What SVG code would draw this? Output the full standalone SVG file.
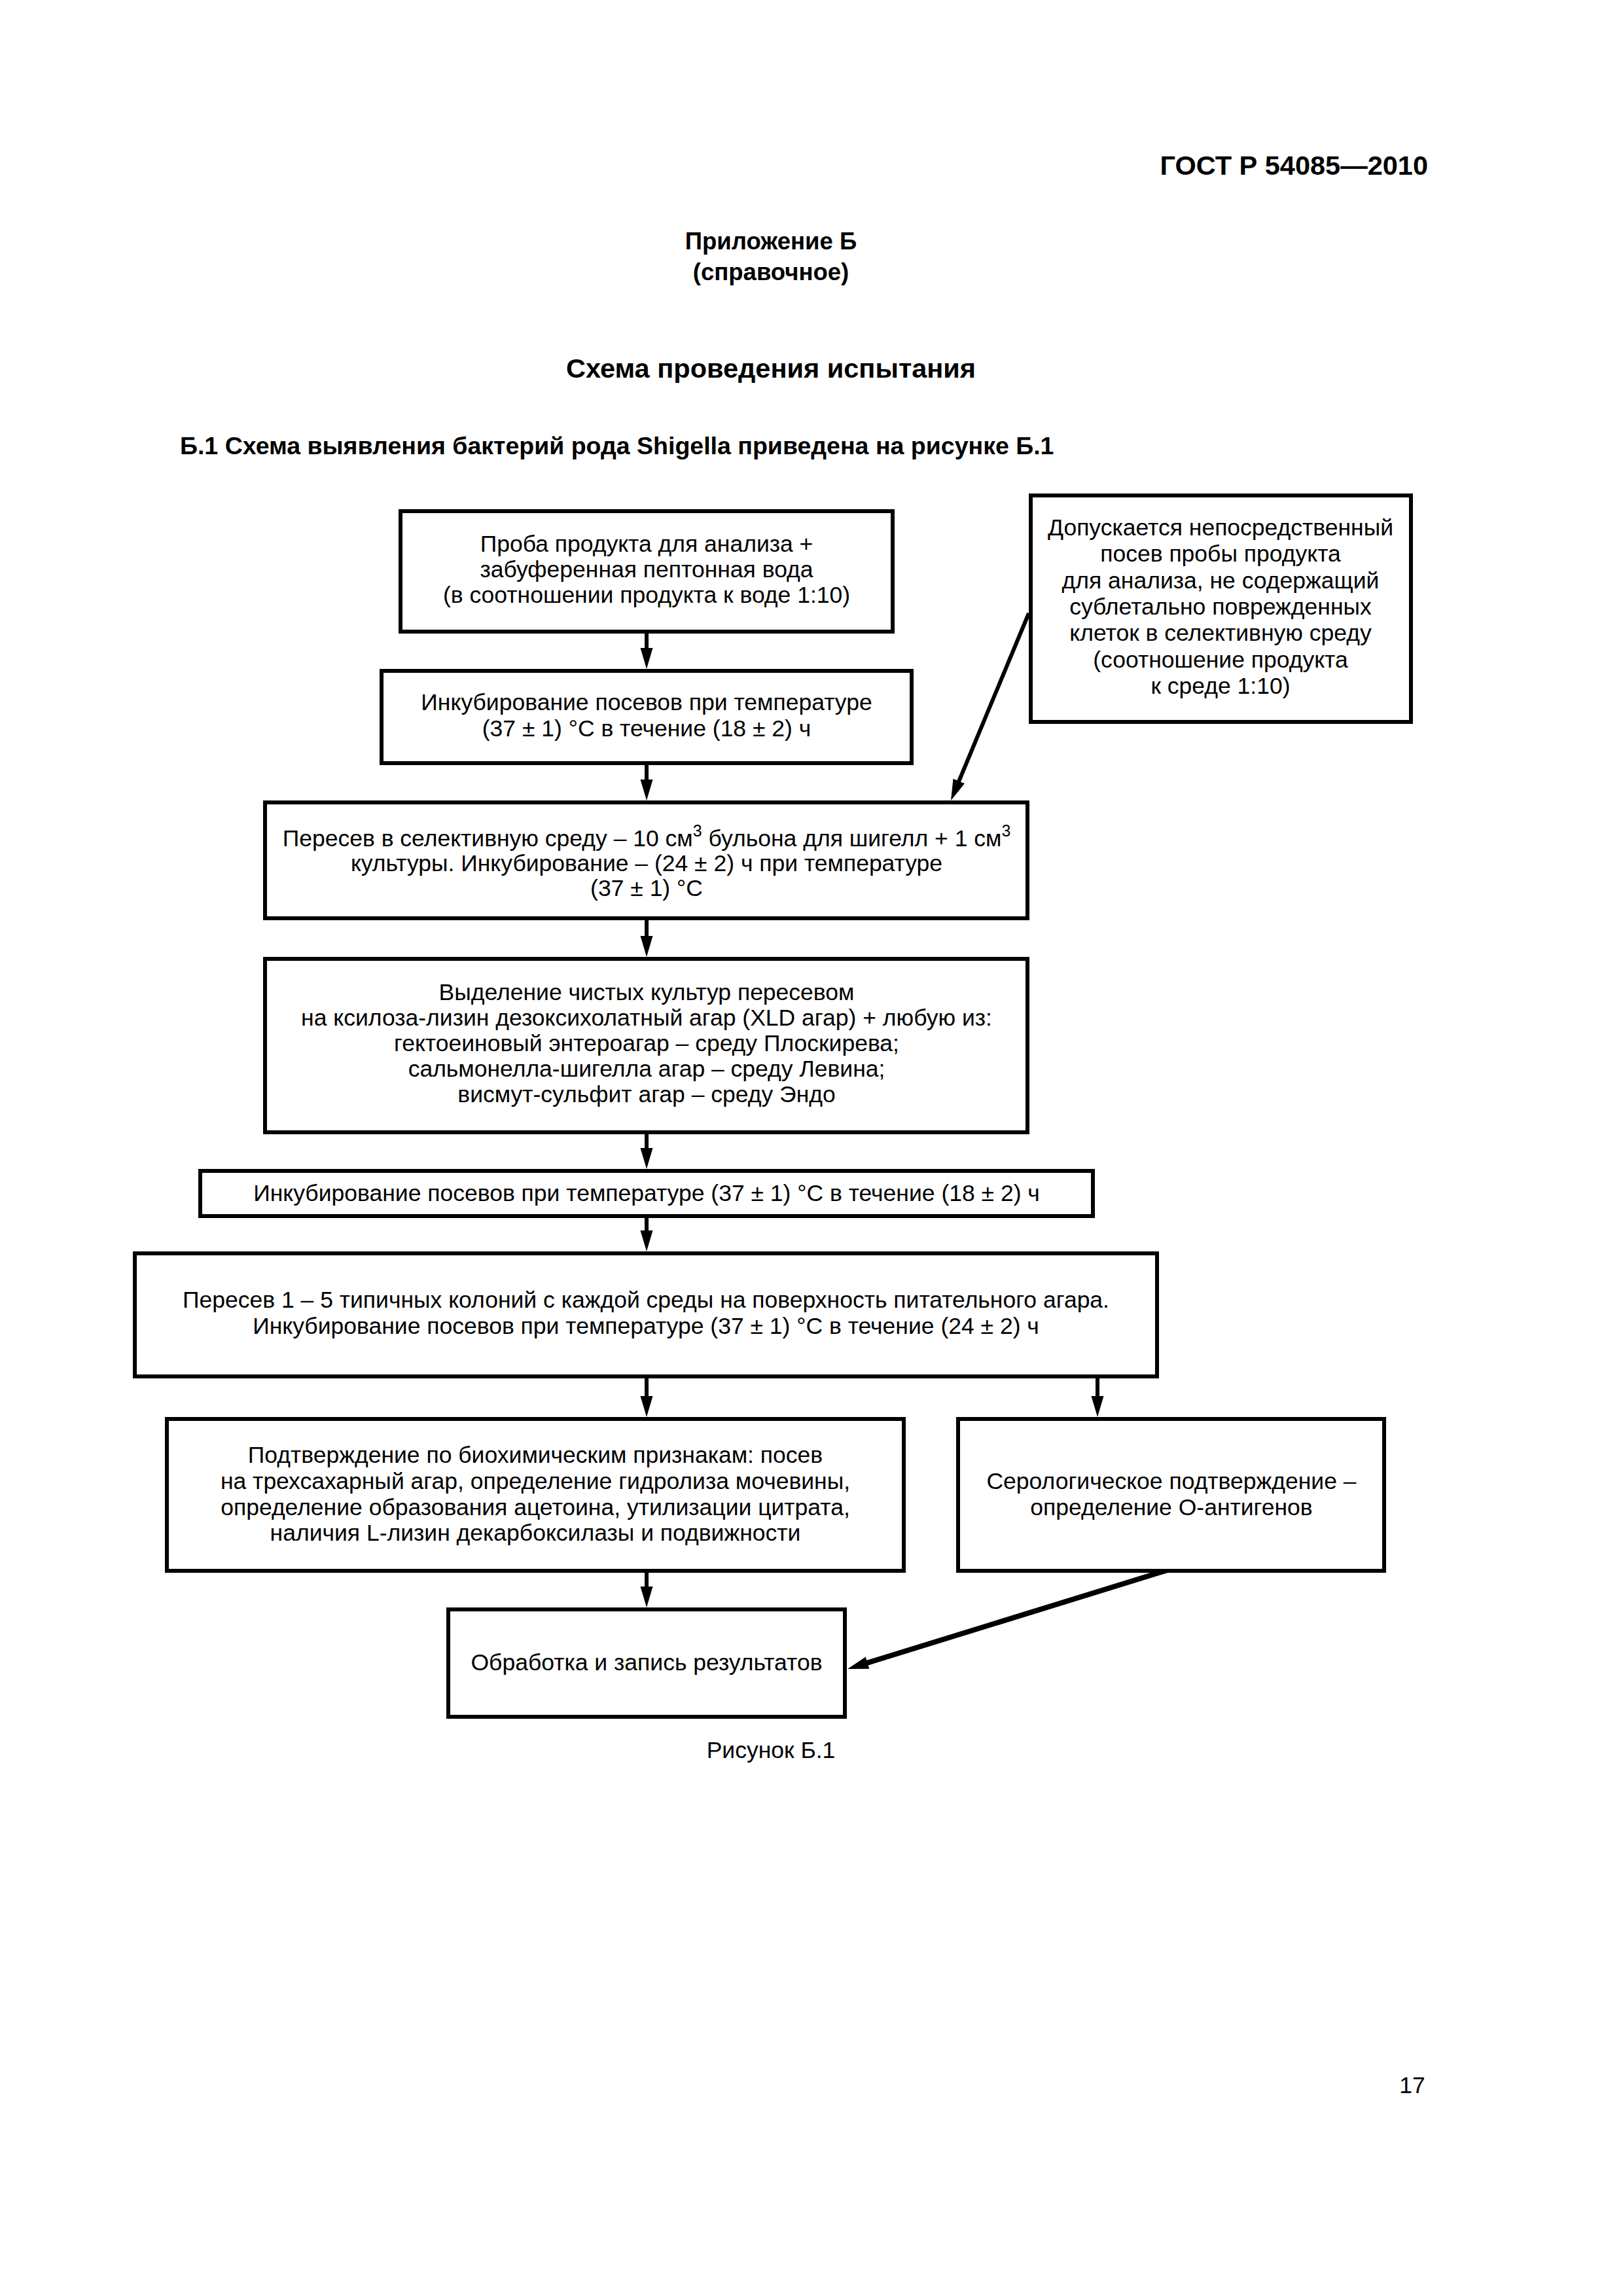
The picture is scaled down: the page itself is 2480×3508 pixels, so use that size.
<svg xmlns="http://www.w3.org/2000/svg" width="2480" height="3508" viewBox="0 0 2480 3508">
<style>
  .bg { fill: #ffffff; }
  .box { fill: #ffffff; stroke: #000000; stroke-width: 6; }
  .t { font-family: "Liberation Sans", Arial, sans-serif; font-size: 35.5px; fill: #000000; text-anchor: middle; }
  .hb { font-family: "Liberation Sans", Arial, sans-serif; font-weight: bold; fill: #000000; }
  .conn { stroke: #000000; stroke-width: 6; fill: none; marker-end: url(#arr); }
  .thick { stroke-width: 8; }
  .sup { font-size: 25px; }
</style>
<defs>
  <marker id="arr" markerUnits="userSpaceOnUse" markerWidth="34" markerHeight="22" refX="12" refY="10" orient="auto" viewBox="0 0 34 20">
    <path d="M0,0.5 L32,10 L0,19.5 z" fill="#000000"/>
  </marker>
</defs>
<rect class="bg" x="0" y="0" width="2480" height="3508"/>

<g id="page-header">
  <text class="hb" x="2182" y="267" font-size="41.5" text-anchor="end">ГОСТ Р 54085—2010</text>
  <text class="hb" x="1178" y="381" font-size="36.5" text-anchor="middle">Приложение Б</text>
  <text class="hb" x="1178" y="428" font-size="36.5" text-anchor="middle">(справочное)</text>
  <text class="hb" x="1178" y="577" font-size="41.5" text-anchor="middle">Схема проведения испытания</text>
  <text class="hb" x="275" y="694" font-size="37.5">Б.1 Схема выявления бактерий рода Shigella приведена на рисунке Б.1</text>
</g>

<g id="connectors">
  <line class="conn" x1="988" y1="967" x2="988" y2="1002"/>
  <line class="conn" x1="988" y1="1166" x2="988" y2="1203"/>
  <line class="conn" x1="988" y1="1403" x2="988" y2="1442"/>
  <line class="conn" x1="988" y1="1730" x2="988" y2="1766"/>
  <line class="conn" x1="988" y1="1858" x2="988" y2="1892"/>
  <line class="conn" x1="988" y1="2103" x2="988" y2="2145"/>
  <line class="conn" x1="1677" y1="2103" x2="1677" y2="2145"/>
  <line class="conn" x1="988" y1="2400" x2="988" y2="2436"/>
  <line class="conn" x1="1572" y1="937" x2="1460.7" y2="1204.5"/>
  <line class="conn thick" x1="1787" y1="2398" x2="1314.1" y2="2544.1"/>
</g>

<g id="node-sample">
  <rect class="box" x="612" y="781" width="752" height="184"/>
  <text class="t" x="988" y="843">Проба продукта для анализа +</text>
  <text class="t" x="988" y="882">забуференная пептонная вода</text>
  <text class="t" x="988" y="921">(в соотношении продукта к воде 1:10)</text>
</g>

<g id="node-direct">
  <rect class="box" x="1575" y="757" width="581" height="346"/>
  <text class="t" x="1865" y="818">Допускается непосредственный</text>
  <text class="t" x="1865" y="858">посев пробы продукта</text>
  <text class="t" x="1865" y="899">для анализа, не содержащий</text>
  <text class="t" x="1865" y="939">сублетально поврежденных</text>
  <text class="t" x="1865" y="979">клеток в селективную среду</text>
  <text class="t" x="1865" y="1020">(соотношение продукта</text>
  <text class="t" x="1865" y="1060">к среде 1:10)</text>
</g>

<g id="node-incub1">
  <rect class="box" x="583" y="1025" width="810" height="141"/>
  <text class="t" x="988" y="1085">Инкубирование посевов при температуре</text>
  <text class="t" x="988" y="1125">(37 ± 1) °С в течение (18 ± 2) ч</text>
</g>

<g id="node-selective">
  <rect class="box" x="405" y="1226" width="1165" height="177"/>
  <text class="t" x="988" y="1293">Пересев в селективную среду – 10 см<tspan class="sup" dy="-15">3</tspan><tspan dy="15"> бульона для шигелл + 1 см</tspan><tspan class="sup" dy="-15">3</tspan></text>
  <text class="t" x="988" y="1331">культуры. Инкубирование – (24 ± 2) ч при температуре</text>
  <text class="t" x="988" y="1369">(37 ± 1) °С</text>
</g>

<g id="node-isolation">
  <rect class="box" x="405" y="1465" width="1165" height="265"/>
  <text class="t" x="988" y="1528">Выделение чистых культур пересевом</text>
  <text class="t" x="988" y="1567">на ксилоза-лизин дезоксихолатный агар (XLD агар) + любую из:</text>
  <text class="t" x="988" y="1606">гектоеиновый энтероагар – среду Плоскирева;</text>
  <text class="t" x="988" y="1645">сальмонелла-шигелла агар – среду Левина;</text>
  <text class="t" x="988" y="1684">висмут-сульфит агар – среду Эндо</text>
</g>

<g id="node-incub2">
  <rect class="box" x="306" y="1789" width="1364" height="69"/>
  <text class="t" x="988" y="1835">Инкубирование посевов при температуре (37 ± 1) °С в течение (18 ± 2) ч</text>
</g>

<g id="node-transfer">
  <rect class="box" x="206" y="1915" width="1562" height="188"/>
  <text class="t" x="987" y="1998">Пересев 1 – 5 типичных колоний с каждой среды на поверхность питательного агара.</text>
  <text class="t" x="987" y="2038">Инкубирование посевов при температуре (37 ± 1) °С в течение (24 ± 2) ч</text>
</g>

<g id="node-biochem">
  <rect class="box" x="255" y="2168" width="1126" height="232"/>
  <text class="t" x="818" y="2235">Подтверждение по биохимическим признакам: посев</text>
  <text class="t" x="818" y="2275">на трехсахарный агар, определение гидролиза мочевины,</text>
  <text class="t" x="818" y="2315">определение образования ацетоина, утилизации цитрата,</text>
  <text class="t" x="818" y="2354">наличия L-лизин декарбоксилазы и подвижности</text>
</g>

<g id="node-serology">
  <rect class="box" x="1464" y="2168" width="651" height="232"/>
  <text class="t" x="1790" y="2275">Серологическое подтверждение –</text>
  <text class="t" x="1790" y="2315">определение О-антигенов</text>
</g>

<g id="node-results">
  <rect class="box" x="685" y="2459" width="606" height="164"/>
  <text class="t" x="988" y="2552">Обработка и запись результатов</text>
</g>

<g id="page-footer">
  <text class="t" x="1178" y="2686" font-size="37">Рисунок Б.1</text>
  <text class="t" x="2158" y="3198" font-size="37">17</text>
</g>
</svg>
